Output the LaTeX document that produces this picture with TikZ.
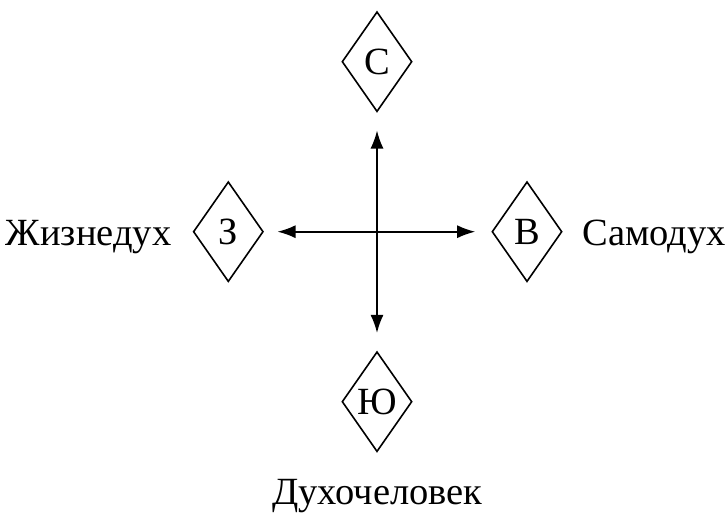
\documentclass[tikz,border=0pt]{standalone}
\usepackage{fontspec}
\setmainfont{Liberation Serif}
\usetikzlibrary{shapes.geometric,arrows.meta}
\begin{document}
\begin{tikzpicture}[x=1pt,y=-1pt,
  dia/.style={draw,diamond,line width=1.6pt,minimum width=70pt,minimum height=100pt,inner sep=0pt,font=\fontsize{38.5}{46}\selectfont},
  lbl/.style={anchor=base,inner sep=0pt,font=\fontsize{38.5}{46}\selectfont},
  arr/.style={line width=1.6pt,{Latex[length=18pt,width=13pt]}-{Latex[length=18pt,width=13pt]}}]
\useasboundingbox (0,0) rectangle (728,514);
\node[dia] (c) at (377,61.7) {С};
\node[dia] (z) at (228.3,231.7) {З};
\node[dia] (v) at (527,231.7) {В};
\node[dia] (yu) at (377,401.7) {Ю};
\node[lbl] (lz) at (88.5,245.7) {Жизнедух};
\node[lbl] (lv) at (654,245.7) {Самодух};
\node[lbl] (lyu) at (377.5,504.5) {Духочеловек};
\draw[arr,shorten <=18pt,shorten >=18pt] (c.south) -- (yu.north);
\draw[arr,shorten <=13.4pt,shorten >=16pt] (z.east) -- (v.west);
\end{tikzpicture}
\end{document}
